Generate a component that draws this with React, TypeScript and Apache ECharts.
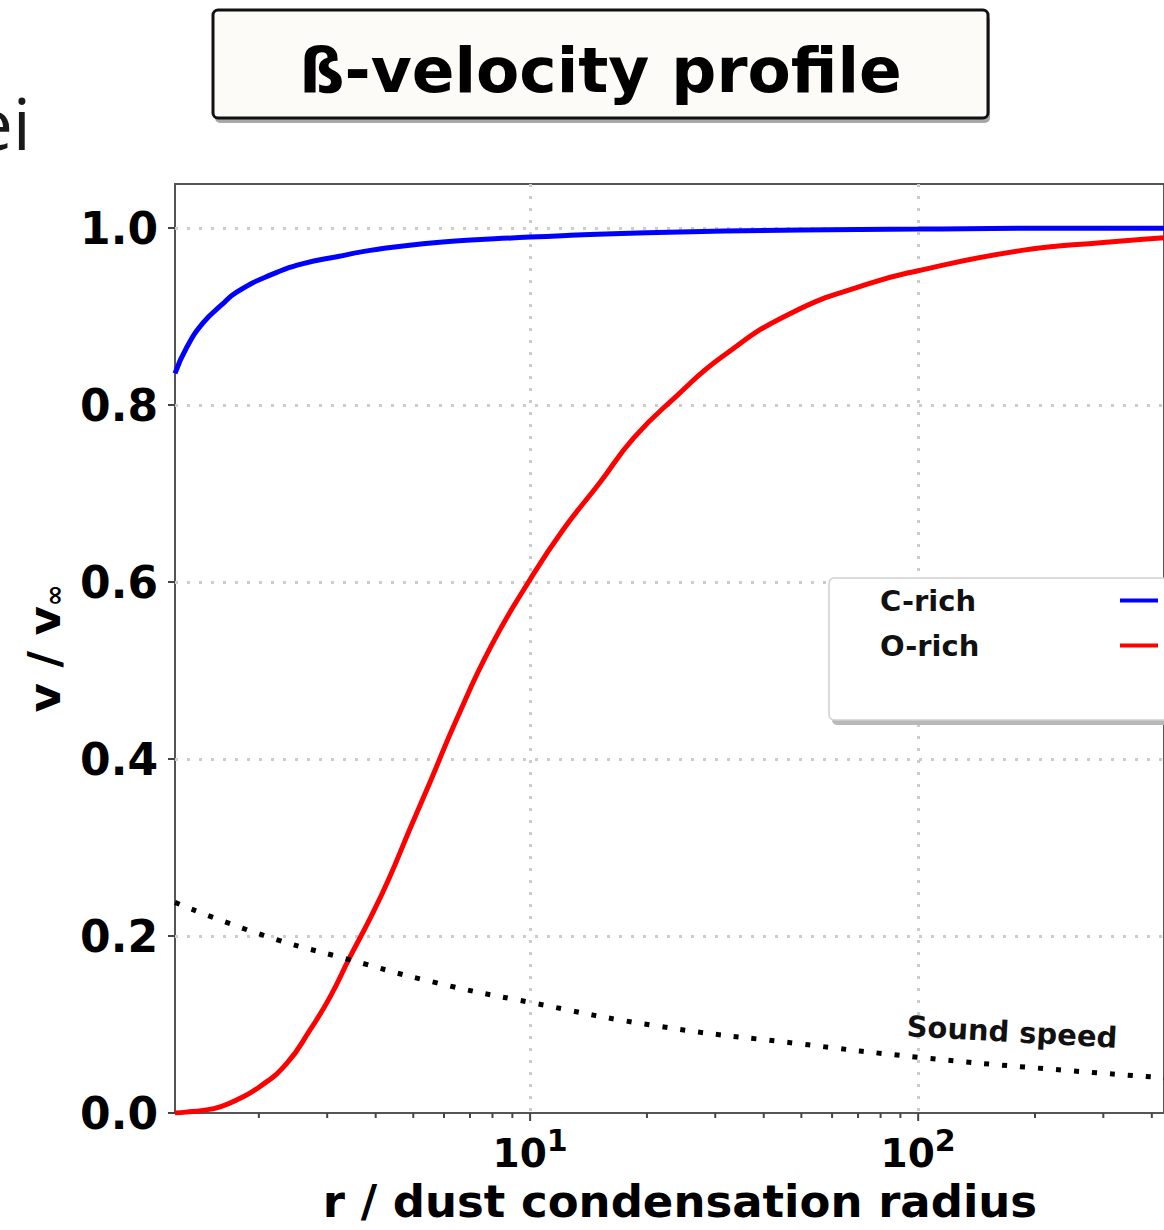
import React, { useEffect, useRef } from "react";
import * as echarts from "echarts";

// ---- data ----
const cRichR = [1.216, 1.306, 1.436, 1.6, 1.757, 2.138, 2.6, 3.2, 3.87, 5.75, 10, 12.7, 20, 50, 100, 200, 490];
const cRichV = [0.836, 0.866, 0.893, 0.913, 0.928, 0.947, 0.96, 0.968, 0.975, 0.984, 0.99, 0.992, 0.995, 0.998, 0.999, 1.0, 1.0];

const oRichR = [1.216, 1.3, 1.436, 1.589, 1.757, 2.014, 2.36, 2.71, 3.05, 3.44, 3.87, 4.31, 4.9, 5.56, 6.45, 7.94, 10, 12.2, 15.1, 18.5, 23.8, 31.3, 47, 74.3, 100, 185, 300, 490];
const oRichV = [0, 0.001, 0.003, 0.007, 0.015, 0.03, 0.056, 0.094, 0.131, 0.177, 0.22, 0.263, 0.321, 0.377, 0.444, 0.528, 0.603, 0.66, 0.712, 0.763, 0.81, 0.855, 0.904, 0.937, 0.952, 0.975, 0.984, 0.991];

const soundR = [1.216, 2.05, 3.44, 5.75, 10, 21.5, 50, 100, 200, 490];
const soundV = [0.238, 0.201, 0.173, 0.147, 0.125, 0.098, 0.078, 0.063, 0.051, 0.038];

const majorTicks = [10, 100];
const minorTicks = [2, 3, 4, 5, 6, 7, 8, 9, 20, 30, 40, 50, 60, 70, 80, 90, 200, 300, 400];

const seriesNames = ["C-rich", "O-rich"];
const titleText = "ß-velocity profile";
const xTitle = "r / dust condensation radius";
const soundLabel = "Sound speed";

const FONT = '"DejaVu Sans", Verdana, sans-serif';

function zip(xs: number[], ys: number[]) {
  return xs.map((x, i) => [x, ys[i]]);
}

function buildOption() {
  const tickData = [
    ...majorTicks.map((v) => [v, 0, 8]),
    ...minorTicks.map((v) => [v, 0, 5]),
  ];
  const dotted = { color: "#cccccc", width: 3, type: [3, 9] };
  return {
    animation: false,
    backgroundColor: "#ffffff",
    grid: {
      left: 175,
      top: 184,
      right: 0,
      bottom: 117,
      show: true,
      borderColor: "#555555",
      borderWidth: 2,
      backgroundColor: "transparent",
    },
    legend: {
      data: seriesNames,
      orient: "vertical",
      left: 880,
      top: 583,
      padding: 0,
      align: "right",
      icon: "rect",
      itemWidth: 38,
      itemHeight: 4,
      itemGap: 10,
      selectedMode: false,
      formatter: (name: string) => `{a|${name}}`,
      textStyle: {
        fontFamily: FONT,
        fontWeight: "bold",
        fontSize: 29,
        color: "#111",
        lineHeight: 35,
        rich: {
          a: { fontFamily: FONT, fontWeight: "bold", fontSize: 29, color: "#111", width: 235, align: "left", lineHeight: 35 },
        },
      },
    },
    xAxis: {
      type: "log",
      logBase: 10,
      min: 1.216,
      max: 430,
      axisLine: { show: false },
      axisTick: { show: false },
      splitLine: { show: true, showMinLine: false, showMaxLine: false, lineStyle: dotted },
      axisLabel: {
        margin: 12,
        showMinLabel: false,
        showMaxLabel: false,
        formatter: (v: number) => {
          const e = Math.log10(v);
          if (Math.abs(e - Math.round(e)) > 1e-6) return "";
          return `{b|10}{s|${Math.round(e)}}`;
        },
        rich: {
          b: { fontFamily: FONT, fontWeight: "bold", fontSize: 39, color: "#000", lineHeight: 56 },
          s: { fontFamily: FONT, fontWeight: "bold", fontSize: 30, color: "#000", lineHeight: 22, verticalAlign: "top" },
        },
      },
      name: xTitle,
      nameLocation: "middle",
      nameGap: 66,
      nameTextStyle: { fontFamily: FONT, fontWeight: "bold", fontSize: 45, color: "#000", padding: [0, 0, 0, 21] },
    },
    yAxis: {
      type: "value",
      min: 0,
      max: 1.05,
      interval: 0.2,
      axisLine: { show: false },
      axisTick: { show: true, length: 7, lineStyle: { color: "#444", width: 2 } },
      splitLine: { show: true, showMinLine: false, showMaxLine: false, lineStyle: dotted },
      axisLabel: {
        margin: 17,
        showMaxLabel: false,
        fontFamily: FONT,
        fontWeight: "bold",
        fontSize: 44,
        color: "#000",
        formatter: (v: number) => {
          const k = v / 0.2;
          if (Math.abs(k - Math.round(k)) > 1e-6) return "";
          return v.toFixed(1);
        },
      },
      name: "{n|v / v}{s|∞}",
      nameLocation: "middle",
      nameRotate: 90,
      nameGap: 108,
      nameTextStyle: {
        rich: {
          n: { fontFamily: FONT, fontWeight: "bold", fontSize: 45, color: "#000", verticalAlign: "bottom" },
          s: { fontFamily: FONT, fontWeight: "bold", fontSize: 26, color: "#000", verticalAlign: "bottom" },
        },
      },
    },
    graphic: [
      {
        type: "text",
        x: 31,
        y: 122,
        style: { text: "ei", fontFamily: '"Open Sans", sans-serif', fontSize: 72, fill: "#1a1a1a", align: "right", verticalAlign: "middle" },
      },
      { type: "rect", x: 215, y: 15, shape: { width: 775, height: 108, r: 5 }, style: { fill: "#a8a8a8" }, z: 10 },
      { type: "rect", x: 213, y: 10, shape: { width: 775, height: 108, r: 5 }, style: { fill: "#fcfbf7", stroke: "#111", lineWidth: 3 }, z: 11 },
      {
        type: "text",
        x: 600.5,
        y: 70,
        z: 12,
        style: { text: titleText, fontFamily: FONT, fontWeight: "bold", fontSize: 63, fill: "#000", align: "center", verticalAlign: "middle" },
      },
      { type: "rect", x: 832, y: 583, shape: { width: 360, height: 142, r: 5 }, style: { fill: "#b8b8b8" }, z: 3 },
      { type: "rect", x: 829, y: 578, shape: { width: 360, height: 142, r: 5 }, style: { fill: "#ffffff", stroke: "#d0d0d0", lineWidth: 1.5 }, z: 3 },
      {
        type: "text",
        x: 1012,
        y: 1032,
        rotation: -0.055,
        z: 6,
        style: { text: soundLabel, fontFamily: FONT, fontWeight: "bold", fontSize: 29, fill: "#111", align: "center", verticalAlign: "middle" },
      },
    ],
    series: [
      {
        name: seriesNames[0],
        type: "line",
        data: zip(cRichR, cRichV),
        showSymbol: false,
        smooth: 0.5,
        color: "#0000ff",
        lineStyle: { color: "#0000ff", width: 5 },
        z: 3,
      },
      {
        name: seriesNames[1],
        type: "line",
        data: zip(oRichR, oRichV),
        showSymbol: false,
        smooth: 0.5,
        color: "#ff0000",
        lineStyle: { color: "#ff0000", width: 5 },
        z: 3,
      },
      {
        name: soundLabel,
        type: "line",
        data: zip(soundR, soundV),
        showSymbol: false,
        smooth: 0.5,
        color: "#000",
        lineStyle: { color: "#000", width: 5, type: [5, 13], cap: "butt" },
        z: 3,
      },
      {
        name: "ticks",
        type: "custom",
        silent: true,
        clip: false,
        z: 5,
        data: tickData,
        encode: { x: 0, y: 1 },
        renderItem: (params: any, api: any) => {
          const p = api.coord([api.value(0), 0]);
          const len = api.value(2);
          return {
            type: "line",
            shape: { x1: p[0], y1: p[1], x2: p[0], y2: p[1] + len },
            style: { stroke: "#444", lineWidth: 2 },
          };
        },
      },
    ],
  };
}

export default function App() {
  const ref = useRef<HTMLDivElement>(null);
  useEffect(() => {
    const chart = echarts.init(ref.current!, null, { renderer: "svg" });
    chart.setOption(buildOption() as any);
    return () => chart.dispose();
  }, []);
  return (
    <div style={{ position: "absolute", left: 0, top: 0, width: 1164, height: 1230, overflow: "hidden", background: "#fff" }}>
      <div ref={ref} style={{ width: 1164, height: 1230 }} />
    </div>
  );
}
